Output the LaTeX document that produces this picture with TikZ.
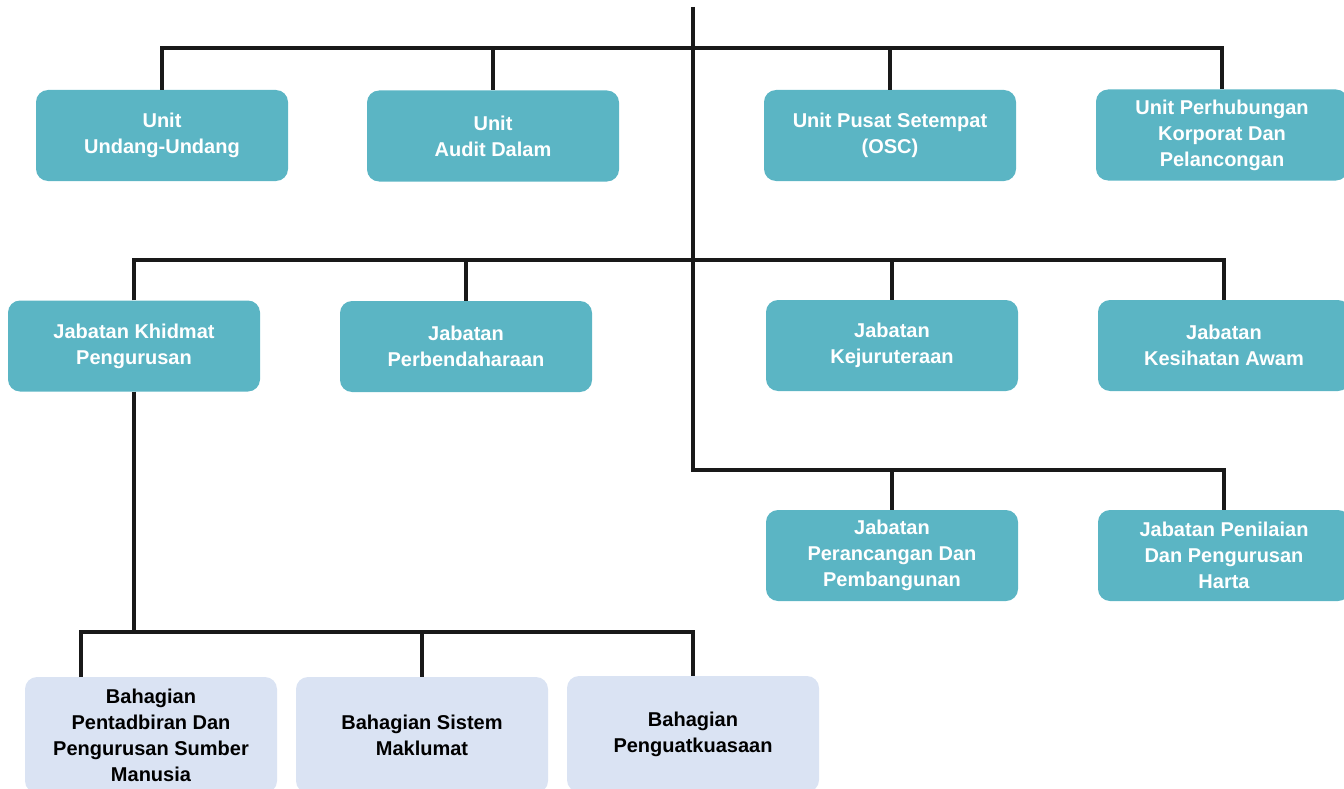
\documentclass[tikz,border=0pt]{standalone}
\usepackage{fontspec}
\setmainfont{Liberation Sans}
\definecolor{tealbox}{HTML}{5BB5C4}
\definecolor{lavbox}{HTML}{DAE3F3}
\begin{document}
\begin{tikzpicture}[x=1pt,y=-1pt,
  box/.style={rectangle, rounded corners=12pt, minimum width=252pt, minimum height=91pt,
    align=center, inner sep=0pt, font=\bfseries\fontsize{20}{26}\selectfont},
  unitbox/.style={box, fill=tealbox, text=white},
  subbox/.style={box, fill=lavbox, text=black, minimum height=116pt},
  conn/.style={line width=3.2pt, black!90}]
\useasboundingbox (0,0) rectangle (1344,789);
% row 1
\node[unitbox] (uu) at (162,135.5) {Unit\\Undang-Undang};
\node[unitbox] (ad) at (493,136) {Unit\\Audit Dalam};
\node[unitbox] (ps) at (890,135.5) {Unit Pusat Setempat\\(OSC)};
\node[unitbox] (ph) at (1222,135) {Unit Perhubungan\\Korporat Dan\\Pelancongan};
% row 2
\node[unitbox] (jk) at (134,346) {Jabatan Khidmat\\Pengurusan};
\node[unitbox] (jp) at (466,346.5) {Jabatan\\Perbendaharaan};
\node[unitbox] (jkj) at (892,345.5) {Jabatan\\Kejuruteraan};
\node[unitbox] (jka) at (1224,345.5) {Jabatan\\Kesihatan Awam};
% row 3
\node[unitbox] (jpp) at (892,555.5) {Jabatan\\Perancangan Dan\\Pembangunan};
\node[unitbox] (jph) at (1224,555.5) {Jabatan Penilaian\\Dan Pengurusan\\Harta};
% row 4
\node[subbox] (bp) at (151,735) {Bahagian\\Pentadbiran Dan\\Pengurusan Sumber\\Manusia};
\node[subbox] (bs) at (422,735) {Bahagian Sistem\\Maklumat};
\node[subbox] (bk) at (693,734) {Bahagian\\Penguatkuasaan};
% junctions
\coordinate (top) at (693,7);
\coordinate (b1) at (693,48);
\coordinate (b2) at (693,260);
\coordinate (b3) at (693,470);
\coordinate (b4) at (134,632);
\coordinate (d1) at (81,677);
% connectors
\draw[conn] (top) -- (b3) -- (jph.north |- b3) -- (jph.north);
\draw[conn] (jpp.north |- b3) -- (jpp.north);
\draw[conn] (uu.north) -- (uu.north |- b1) -- (ph.north |- b1) -- (ph.north);
\draw[conn] (ad.north |- b1) -- (ad.north);
\draw[conn] (ps.north |- b1) -- (ps.north);
\draw[conn] (jk.north) -- (jk.north |- b2) -- (jka.north |- b2) -- (jka.north);
\draw[conn] (jp.north |- b2) -- (jp.north);
\draw[conn] (jkj.north |- b2) -- (jkj.north);
\draw[conn] (jk.south) -- (b4);
\draw[conn] (d1) -- (d1 |- b4) -- (bk.north |- b4) -- (bk.north);
\draw[conn] (bs.north |- b4) -- (bs.north);
\end{tikzpicture}
\end{document}
